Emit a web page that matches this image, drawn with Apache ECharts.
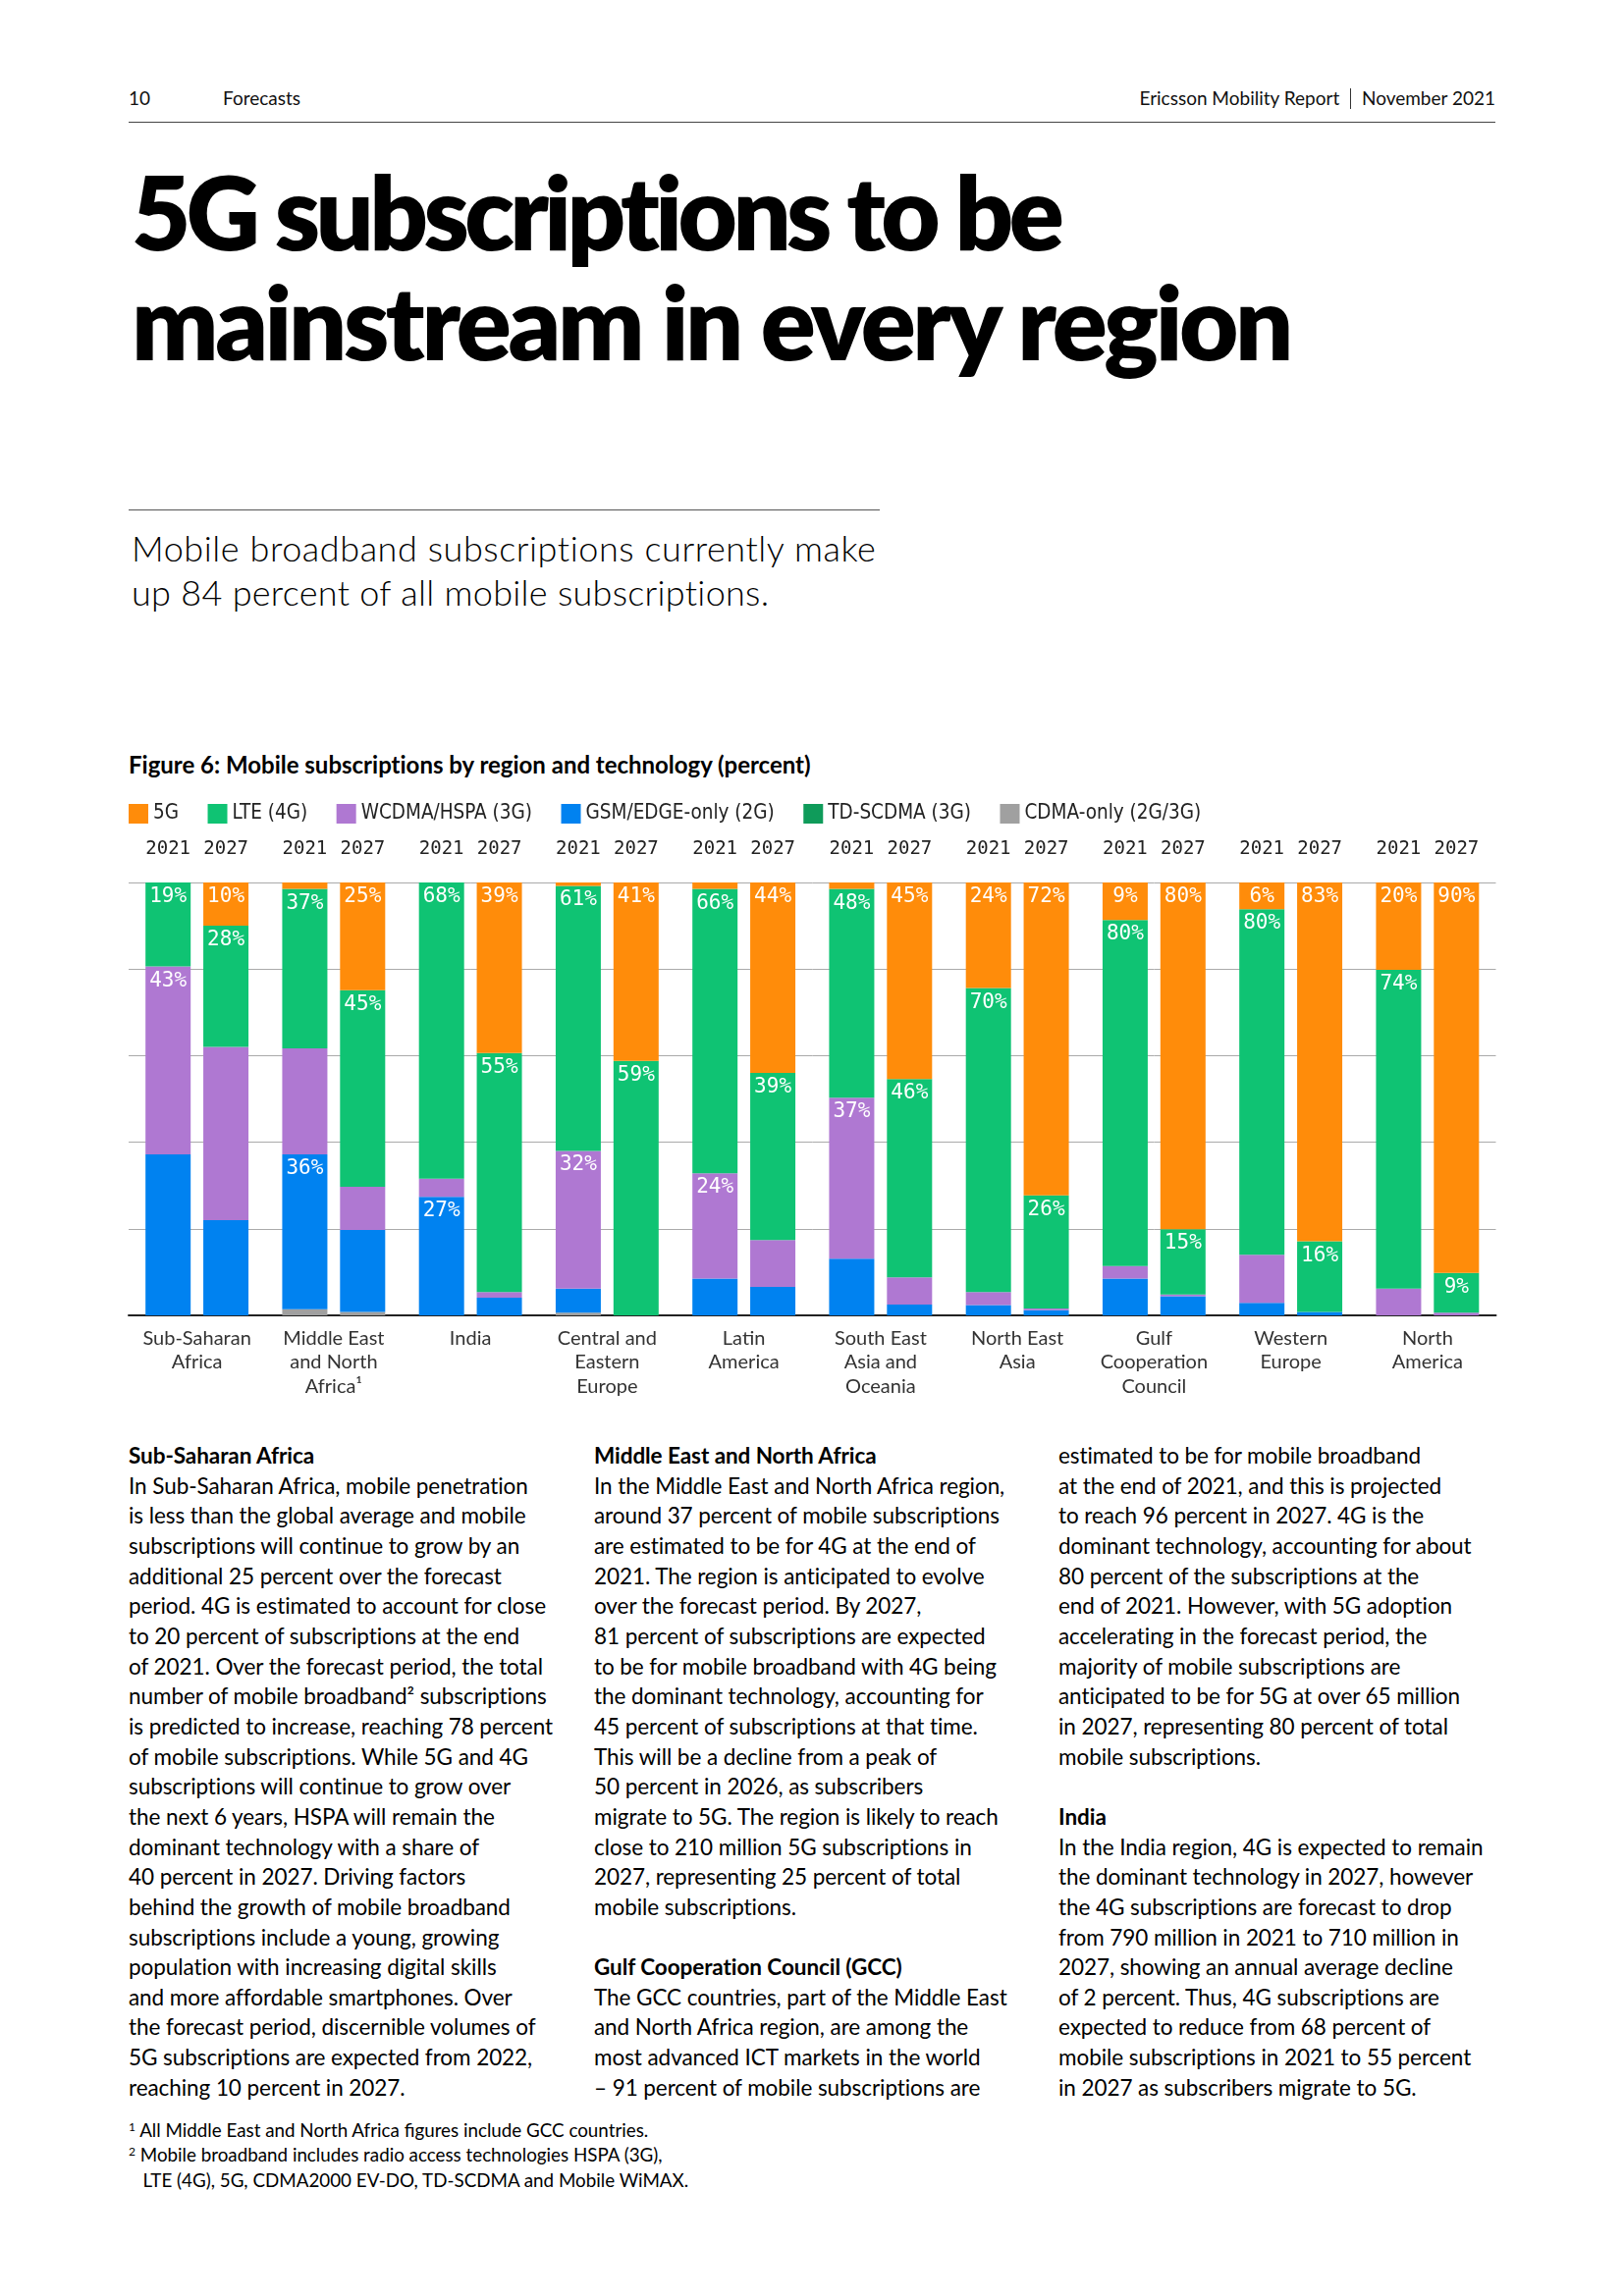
<!DOCTYPE html>
<html><head><meta charset="utf-8">
<script src="https://cdn.jsdelivr.net/npm/echarts@6/dist/echarts.min.js"></script>
<style>
html,body{margin:0;padding:0;background:#fff;}
body{width:1654px;height:2339px;position:relative;overflow:hidden;font-family:Lato,'Noto Sans',sans-serif;color:#000;}
.abs{position:absolute;white-space:nowrap;}
.hdr{font-size:19px;line-height:22.8px;top:89px;color:#111;}
.rule{position:absolute;height:0;}
.title{font-weight:800;font-size:104px;line-height:124.8px;left:134px;}
.sub{font-weight:300;font-size:36px;line-height:43.2px;left:134px;}
.cap{font-weight:700;font-size:24px;line-height:28.8px;left:131px;top:765px;}
.col{position:absolute;white-space:nowrap;font-size:22.5px;line-height:30.66px;top:1468px;color:#000;}
.col b{font-weight:700;}
.fn{position:absolute;white-space:nowrap;font-size:18.8px;line-height:25.4px;left:131px;top:2157px;color:#000;}
.fn sup{font-size:12px;vertical-align:6px;line-height:0;}
#chart{position:absolute;left:0;top:800px;width:1654px;height:660px;}
</style></head>
<body>
<div class="abs hdr" style="left:131px;">10</div>
<div class="abs hdr" style="left:227px;">Forecasts</div>
<div class="abs hdr" style="right:131px;">Ericsson Mobility Report <span style="display:inline-block;width:1px;height:21px;background:#333;vertical-align:-4px;margin:0 6px;"></span> November 2021</div>
<div class="rule" style="left:131px;width:1392px;top:124px;border-top:1.5px solid #444;"></div>

<div class="abs title fit" data-w="947" style="top:153px;">5G subscriptions to be</div>
<div class="abs title fit" data-w="1180" style="top:265px;">mainstream in every region</div>

<div class="rule" style="left:131px;width:765px;top:519px;border-top:1.5px solid #555;"></div>
<div class="abs sub fit" data-w="759" style="top:537px;">Mobile broadband subscriptions currently make</div>
<div class="abs sub fit" data-w="650" style="top:582px;">up 84 percent of all mobile subscriptions.</div>

<div class="abs cap fit" data-w="695">Figure 6: Mobile subscriptions by region and technology (percent)</div>

<div id="chart"></div>

<div class="col" style="left:131px;"><b>Sub-Saharan Africa</b><br>In Sub-Saharan Africa, mobile penetration<br>is less than the global average and mobile<br>subscriptions will continue to grow by an<br>additional 25 percent over the forecast<br>period. 4G is estimated to account for close<br>to 20 percent of subscriptions at the end<br>of 2021. Over the forecast period, the total<br>number of mobile broadband² subscriptions<br><span id="refline">is predicted to increase, reaching 78 percent</span><br>of mobile subscriptions. While 5G and 4G<br>subscriptions will continue to grow over<br>the next 6 years, HSPA will remain the<br>dominant technology with a share of<br>40 percent in 2027. Driving factors<br>behind the growth of mobile broadband<br>subscriptions include a young, growing<br>population with increasing digital skills<br>and more affordable smartphones. Over<br>the forecast period, discernible volumes of<br>5G subscriptions are expected from 2022,<br>reaching 10 percent in 2027.</div>

<div class="col" style="left:605px;"><b>Middle East and North Africa</b><br>In the Middle East and North Africa region,<br>around 37 percent of mobile subscriptions<br>are estimated to be for 4G at the end of<br>2021. The region is anticipated to evolve<br>over the forecast period. By 2027,<br>81 percent of subscriptions are expected<br>to be for mobile broadband with 4G being<br>the dominant technology, accounting for<br>45 percent of subscriptions at that time.<br>This will be a decline from a peak of<br>50 percent in 2026, as subscribers<br>migrate to 5G. The region is likely to reach<br>close to 210 million 5G subscriptions in<br>2027, representing 25 percent of total<br>mobile subscriptions.<br>&nbsp;<br><b>Gulf Cooperation Council (GCC)</b><br>The GCC countries, part of the Middle East<br>and North Africa region, are among the<br>most advanced ICT markets in the world<br>– 91 percent of mobile subscriptions are</div>

<div class="col" style="left:1078px;">estimated to be for mobile broadband<br>at the end of 2021, and this is projected<br>to reach 96 percent in 2027. 4G is the<br>dominant technology, accounting for about<br>80 percent of the subscriptions at the<br>end of 2021. However, with 5G adoption<br>accelerating in the forecast period, the<br>majority of mobile subscriptions are<br>anticipated to be for 5G at over 65 million<br>in 2027, representing 80 percent of total<br>mobile subscriptions.<br>&nbsp;<br><b>India</b><br>In the India region, 4G is expected to remain<br>the dominant technology in 2027, however<br>the 4G subscriptions are forecast to drop<br>from 790 million in 2021 to 710 million in<br>2027, showing an annual average decline<br>of 2 percent. Thus, 4G subscriptions are<br>expected to reduce from 68 percent of<br>mobile subscriptions in 2021 to 55 percent<br>in 2027 as subscribers migrate to 5G.</div>

<div class="fn"><sup>1</sup> All Middle East and North Africa figures include GCC countries.<br><sup>2</sup> Mobile broadband includes radio access technologies HSPA (3G),<br>&nbsp;&nbsp;&nbsp;LTE (4G), 5G, CDMA2000 EV-DO, TD-SCDMA and Mobile WiMAX.</div>

<script>
// ---- data ----
const regions = ['Sub-Saharan\nAfrica', 'Middle East\nand North\nAfrica¹', 'India', 'Central and\nEastern\nEurope', 'Latin\nAmerica', 'South East\nAsia and\nOceania', 'North East\nAsia', 'Gulf\nCooperation\nCouncil', 'Western\nEurope', 'North\nAmerica'];
const years = ['2021', '2027'];

const g5_2021    = [0, 1.5, 0, 0.8, 1.5, 1.5, 24.4, 8.7, 6.2, 20.2];
const lte_2021   = [19.4, 36.8, 68.4, 61.2, 65.7, 48.2, 70.2, 79.9, 79.8, 73.6];
const wcdma_2021 = [43.4, 24.5, 4.2, 31.8, 24.3, 37.2, 3.0, 2.9, 11.1, 6.2];
const gsm_2021   = [37.2, 35.8, 27.4, 5.6, 8.5, 13.1, 2.4, 8.5, 2.9, 0];
const td_2021    = [0, 0, 0, 0, 0, 0, 0, 0, 0, 0];
const cdma_2021  = [0, 1.4, 0, 0.6, 0, 0, 0, 0, 0, 0];

const g5_2027    = [10, 24.9, 39.4, 41.2, 44.0, 45.4, 72.3, 80.1, 82.9, 90.2];
const lte_2027   = [28, 45.4, 55.2, 58.8, 38.6, 45.8, 26.1, 15.1, 16.3, 9.2];
const wcdma_2027 = [40, 10.0, 1.3, 0, 10.8, 6.3, 0.4, 0.4, 0, 0.6];
const gsm_2027   = [22, 18.9, 4.1, 0, 6.6, 2.5, 1.2, 4.4, 0.8, 0];
const td_2027    = [0, 0, 0, 0, 0, 0, 0, 0, 0, 0];
const cdma_2027  = [0, 0.8, 0, 0, 0, 0, 0, 0, 0, 0];

// which segments carry a value label
const labelled2021 = [['LTE','WCDMA'],['LTE','GSM'],['LTE','GSM'],['LTE','WCDMA'],['LTE','WCDMA'],['LTE','WCDMA'],['5G','LTE'],['5G','LTE'],['5G','LTE'],['5G','LTE']];
const labelled2027 = [['5G','LTE'],['5G','LTE'],['5G','LTE'],['5G','LTE'],['5G','LTE'],['5G','LTE'],['5G','LTE'],['5G','LTE'],['5G','LTE'],['5G','LTE']];

const techs = [
  {key:'CDMA',  name:'CDMA-only (2G/3G)',  color:'#A0A0A0', d:{'2021':cdma_2021,  '2027':cdma_2027}},
  {key:'GSM',   name:'GSM/EDGE-only (2G)', color:'#0082F0', d:{'2021':gsm_2021,   '2027':gsm_2027}},
  {key:'WCDMA', name:'WCDMA/HSPA (3G)',    color:'#AF78D2', d:{'2021':wcdma_2021, '2027':wcdma_2027}},
  {key:'TD',    name:'TD-SCDMA (3G)',      color:'#0F9B5A', d:{'2021':td_2021,    '2027':td_2027}},
  {key:'LTE',   name:'LTE (4G)',           color:'#0FC373', d:{'2021':lte_2021,   '2027':lte_2027}},
  {key:'5G',    name:'5G',                 color:'#FF8C0A', d:{'2021':g5_2021,    '2027':g5_2027}}
];
const legendOrder = ['5G', 'LTE (4G)', 'WCDMA/HSPA (3G)', 'GSM/EDGE-only (2G)', 'TD-SCDMA (3G)', 'CDMA-only (2G/3G)'];
const labelled = {'2021': labelled2021, '2027': labelled2027};

const series = [];
years.forEach(y => {
  techs.forEach(t => {
    series.push({
      type: 'bar', name: t.name, stack: y, data: t.d[y],
      barWidth: 46, barGap: '28%',
      itemStyle: {color: t.color},
      emphasis: {disabled: true},
      label: {
        show: true, position: 'insideTop', distance: 4, color: '#fff',
        fontFamily: 'DejaVu Sans Mono', fontSize: 21,
        formatter: p => labelled[y][p.dataIndex].indexOf(t.key) >= 0 ? Math.round(p.value) + '%' : ''
      }
    });
  });
});

const chart = echarts.init(document.getElementById('chart'));
chart.setOption({
  animation: false,
  legend: {
    data: legendOrder, left: 131, top: 18.5, padding: 0, icon: 'rect', itemWidth: 20, itemHeight: 20, itemGap: 29.5,
    selectedMode: false,
    textStyle: {fontFamily: "'DejaVu Sans Condensed', 'DejaVu Sans'", fontSize: 20.5, color: '#222'}
  },
  grid: {left: 131, right: 130.5, top: 99, bottom: 120},
  xAxis: [
    {type: 'category', data: regions, position: 'bottom',
     axisLine: {lineStyle: {color: '#222', width: 2}}, axisTick: {show: false},
     axisLabel: {interval: 0, margin: 11, fontSize: 20, lineHeight: 24.6, color: '#333', fontFamily: 'Lato'}},
    {type: 'category', data: regions, position: 'top',
     axisLine: {show: false}, axisTick: {show: false},
     axisLabel: {interval: 0, margin: 24,
       formatter: () => years.map(v => '{y|' + v + '}').join('{g|}'),
       rich: {y: {width: 46, align: 'center', fontFamily: 'DejaVu Sans Mono', fontSize: 19, color: '#222'}, g: {width: 13}}}}
  ],
  yAxis: {type: 'value', min: 0, max: 100, interval: 20,
    axisLabel: {show: false}, axisLine: {show: false}, axisTick: {show: false},
    splitLine: {lineStyle: {color: '#aaa', width: 1}}},
  series: series
});

// fit text widths
function fitAll() {
  document.querySelectorAll('.fit').forEach(el => {
    el.style.letterSpacing = '0px';
    const w = el.getBoundingClientRect().width;
    const n = el.textContent.length;
    el.style.letterSpacing = ((+el.dataset.w - w) / n) + 'px';
  });
  const ref = document.getElementById('refline');
  document.querySelectorAll('.col').forEach(c => c.style.letterSpacing = '0px');
  const w = ref.getBoundingClientRect().width;
  const ls = (432 - w) / ref.textContent.length;
  document.querySelectorAll('.col').forEach(c => c.style.letterSpacing = ls + 'px');
}
fitAll();
if (document.fonts && document.fonts.ready) document.fonts.ready.then(fitAll);
</script>
</body></html>
